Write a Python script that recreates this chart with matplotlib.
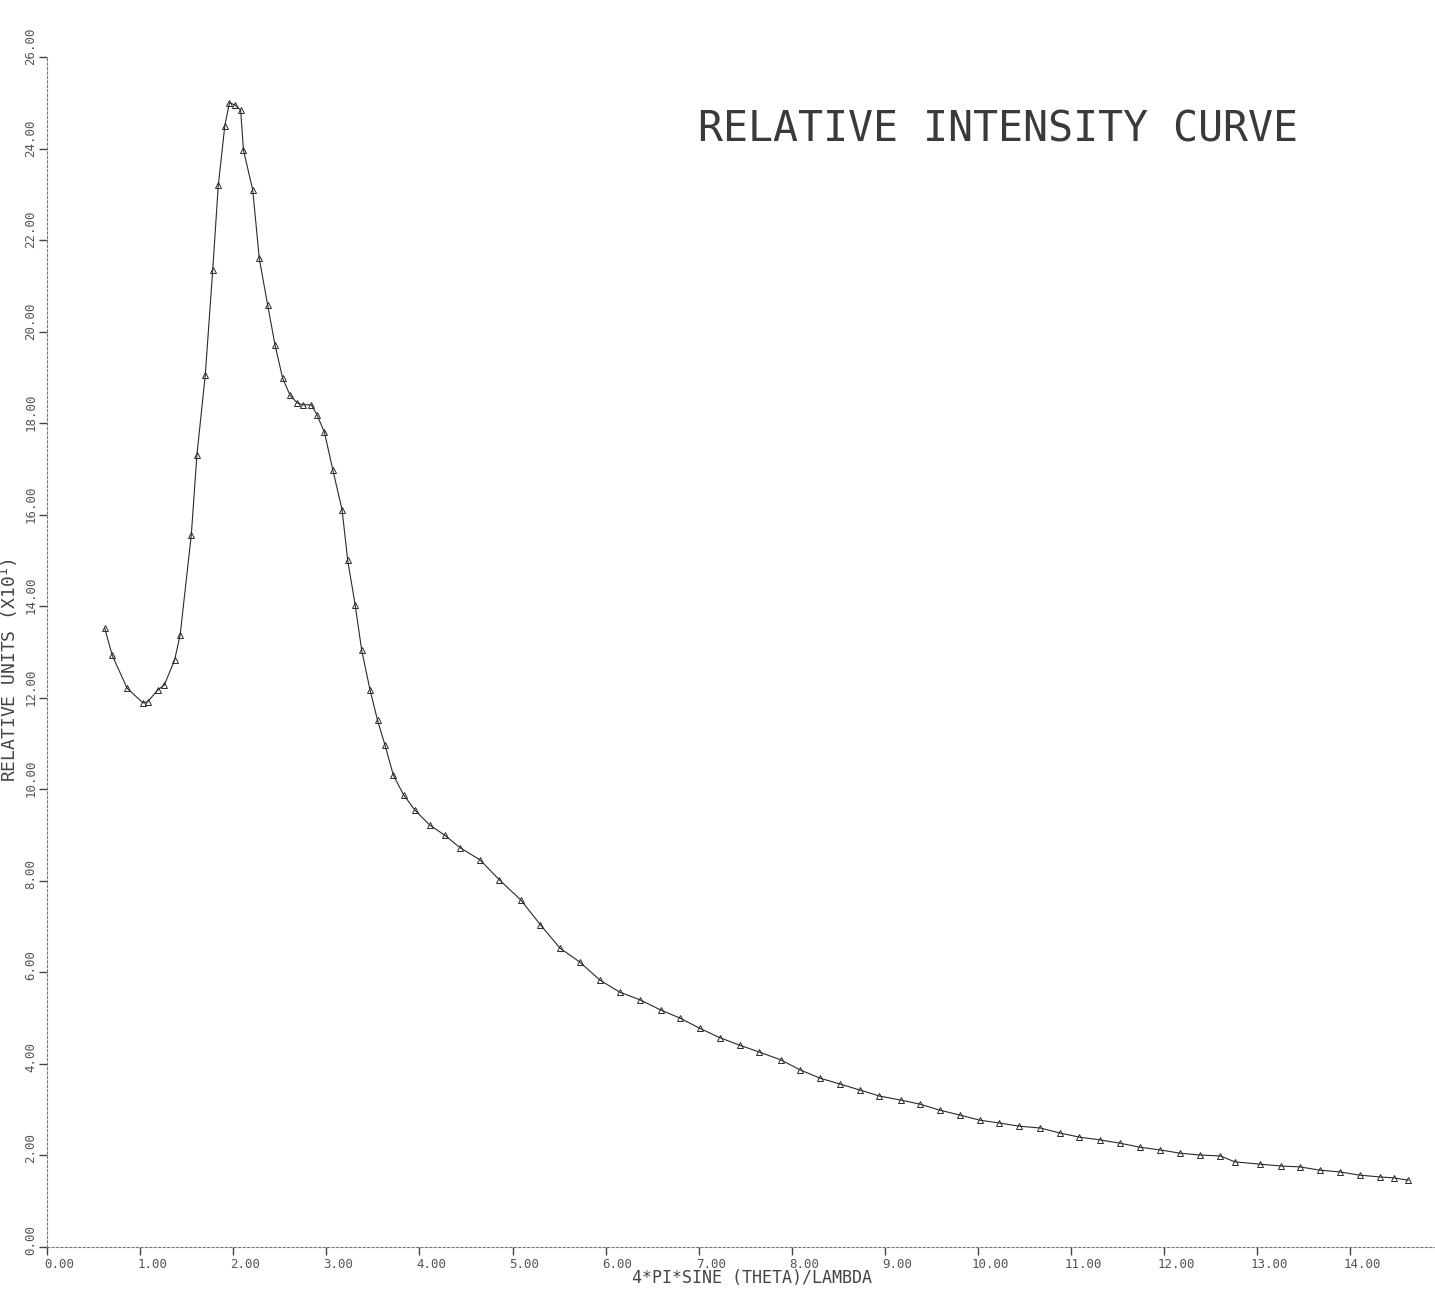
import matplotlib
matplotlib.use("Agg")
import matplotlib.pyplot as plt
import matplotlib.transforms as mtransforms

# Data (x = 4*pi*sin(theta)/lambda, y = relative units)
q_values = [0.62, 0.70, 0.86, 1.03, 1.08, 1.19, 1.26, 1.37, 1.43, 1.55, 1.61, 1.70, 1.78,
            1.84, 1.91, 1.96, 2.02, 2.08, 2.11, 2.21, 2.28, 2.37, 2.45, 2.53, 2.61, 2.69,
            2.75, 2.84, 2.90, 2.98, 3.07, 3.17, 3.23, 3.31, 3.38, 3.47, 3.55, 3.63, 3.72,
            3.83, 3.95, 4.11, 4.27, 4.44, 4.65, 4.86, 5.09, 5.30, 5.51, 5.72, 5.94, 6.15,
            6.37, 6.59, 6.80, 7.01, 7.23, 7.44, 7.65, 7.88, 8.09, 8.30, 8.52, 8.73, 8.94,
            9.17, 9.38, 9.59, 9.81, 10.02, 10.23, 10.44, 10.67, 10.88, 11.09, 11.31, 11.52,
            11.74, 11.96, 12.17, 12.38, 12.60, 12.76, 13.03, 13.25, 13.46, 13.67, 13.89,
            14.10, 14.32, 14.47, 14.62]
intensity = [13.52, 12.93, 12.21, 11.89, 11.91, 12.17, 12.28, 12.82, 13.37, 15.56, 17.30,
             19.05, 21.35, 23.20, 24.50, 25.00, 24.95, 24.84, 23.97, 23.09, 21.60, 20.58,
             19.70, 18.99, 18.61, 18.44, 18.40, 18.40, 18.18, 17.80, 16.98, 16.10, 15.00,
             14.03, 13.04, 12.17, 11.51, 10.97, 10.31, 9.88, 9.55, 9.22, 9.00, 8.72, 8.46,
             8.02, 7.58, 7.04, 6.53, 6.23, 5.83, 5.57, 5.40, 5.18, 5.00, 4.78, 4.57, 4.41,
             4.26, 4.09, 3.87, 3.69, 3.56, 3.43, 3.30, 3.21, 3.12, 2.99, 2.88, 2.77, 2.71,
             2.64, 2.60, 2.49, 2.40, 2.34, 2.27, 2.18, 2.12, 2.05, 2.01, 1.99, 1.86, 1.81,
             1.77, 1.75, 1.68, 1.64, 1.57, 1.53, 1.51, 1.46]

x_ticks = [0, 1, 2, 3, 4, 5, 6, 7, 8, 9, 10, 11, 12, 13, 14]
x_tick_labels = ["0.00", "1.00", "2.00", "3.00", "4.00", "5.00", "6.00", "7.00",
                 "8.00", "9.00", "10.00", "11.00", "12.00", "13.00", "14.00"]
y_ticks = [0, 2, 4, 6, 8, 10, 12, 14, 16, 18, 20, 22, 24, 26]
y_tick_labels = ["0.00", "2.00", "4.00", "6.00", "8.00", "10.00", "12.00", "14.00",
                 "16.00", "18.00", "20.00", "22.00", "24.00", "26.00"]

title_text = "RELATIVE INTENSITY CURVE"
x_label = "4*PI*SINE (THETA)/LAMBDA"
y_label = "RELATIVE UNITS (X10$^{1}$)"

W, H = 1435, 1289
fig = plt.figure(figsize=(W / 100, H / 100), dpi=100)
fig.patch.set_facecolor("white")

left_px, bottom_px, top_px = 47, 1247, 57
ax = fig.add_axes([left_px / W, 1 - bottom_px / H, 1 - left_px / W, (bottom_px - top_px) / H])
ax.set_facecolor("white")
ax.set_xlim(0, (W - left_px) / 93.1)
ax.set_ylim(0, 26)

ax.plot(q_values, intensity, color="#2a2a2a", linewidth=0.8,
        marker="^", markersize=4, markerfacecolor="none",
        markeredgecolor="#2a2a2a", markeredgewidth=0.7)

mono = "DejaVu Sans Mono"
for s in ["top", "right"]:
    ax.spines[s].set_visible(False)
for s in ["left", "bottom"]:
    ax.spines[s].set_color("#777777")
    ax.spines[s].set_linewidth(0.8)
    ax.spines[s].set_linestyle((0, (2, 2)))

ax.set_xticks(x_ticks)
ax.set_xticklabels(x_tick_labels, fontfamily=mono, fontsize=9, color="#555555")
ax.set_yticks(y_ticks)
ax.set_yticklabels(y_tick_labels, fontfamily=mono, fontsize=9, color="#555555",
                   rotation=90, va="bottom")
ax.tick_params(axis="both", direction="out", length=6, width=1.0, color="#444444")
ax.tick_params(axis="x", pad=2)
ax.tick_params(axis="y", pad=1)

shift_x = mtransforms.ScaledTranslation(12 / 100, 0, fig.dpi_scale_trans)
for lbl in ax.get_xticklabels():
    lbl.set_transform(lbl.get_transform() + shift_x)
shift_y = mtransforms.ScaledTranslation(0, -8 / 100, fig.dpi_scale_trans)
for lbl in ax.get_yticklabels():
    lbl.set_transform(lbl.get_transform() + shift_y)

fig.text(752 / W, 1 - 1278 / H, x_label, fontfamily=mono, fontsize=12,
         color="#444444", ha="center", va="center")
fig.text(9 / W, 1 - 670 / H, y_label, fontfamily=mono, fontsize=13,
         color="#444444", ha="center", va="center", rotation=90)

fig.text(998 / W, 1 - 130 / H, title_text, fontfamily=mono, fontsize=30,
         color="#3a3a3a", ha="center", va="center")

fig.savefig("out.png", dpi=100, facecolor="white")
